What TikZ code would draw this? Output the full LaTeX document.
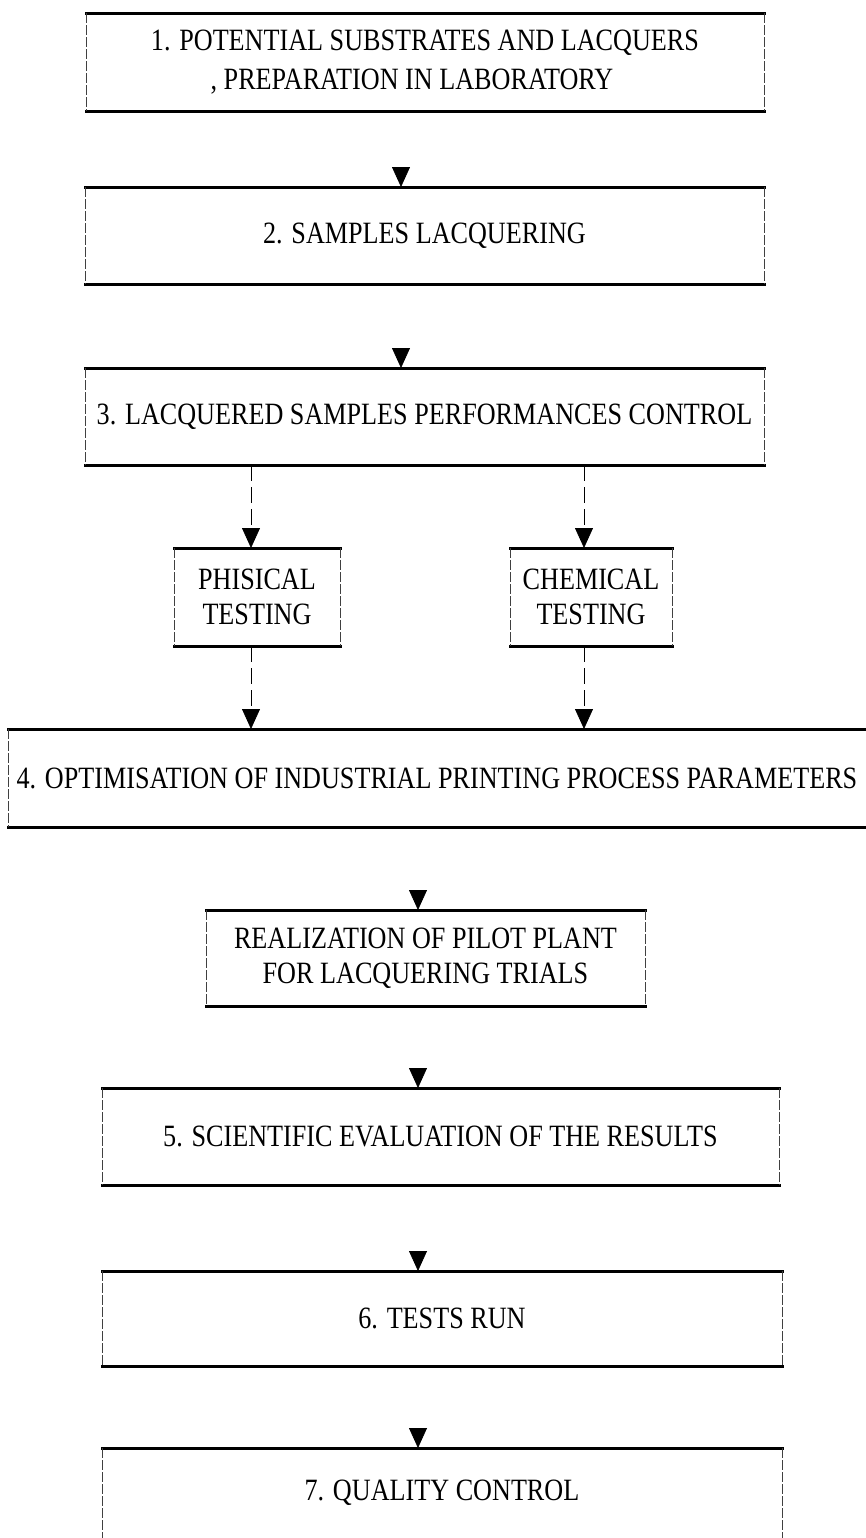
\documentclass[tikz,border=0pt]{standalone}
\usepackage{fontspec}
\setmainfont{Liberation Serif}[FakeStretch=0.844]
\usetikzlibrary{arrows.meta}
\newcommand\frameit[1]{%
  \draw[edgeline] (#1.north west) -- (#1.north east);
  \draw[edgeline] (#1.south west) -- (#1.south east);
  \draw[sideline] (#1.north west) -- (#1.south west);
  \draw[sideline] (#1.north east) -- (#1.south east);}
\begin{document}
\begin{tikzpicture}[x=0.5pt,y=-0.5pt,
  box/.style={inner sep=0pt, outer sep=0pt, align=center,
    font=\fontsize{15.5}{17.5}\selectfont},
  edgeline/.style={line width=1.5pt, line cap=rect},
  sideline/.style={line width=0.5pt, black!75, dash pattern=on 5pt off 1pt},
  tip/.style={-{Triangle[width=9pt,length=10pt,color=black]}},
  mainarrow/.style={tip, draw=white, line width=0.4pt},
  subarrow/.style={tip, line width=0.4pt, dash pattern=on 8pt off 3pt}]
\useasboundingbox (0,0) rectangle (866,1538);
\fill[white] (0,0) rectangle (866,1538);

\node[box, minimum width=339pt, minimum height=49pt,
  font=\fontsize{15.5}{19.5}\selectfont] (b1) at (425,62)
  {1. POTENTIAL SUBSTRATES AND LACQUERS\\, PREPARATION IN LABORATORY\hspace*{13pt}};
\node[box, minimum width=339.5pt, minimum height=48.5pt] (b2) at (424.5,235.5)
  {2. SAMPLES LACQUERING};
\node[box, minimum width=339.5pt, minimum height=48.5pt] (b3) at (424.5,416.5)
  {3. LACQUERED SAMPLES PERFORMANCES CONTROL};
\node[box, minimum width=83pt, minimum height=49pt] (ph) at (257,597)
  {PHISICAL\\TESTING};
\node[box, minimum width=81pt, minimum height=49pt] (ch) at (591,597)
  {CHEMICAL\\TESTING};
\node[box, minimum width=429pt, minimum height=49pt] (b4) at (437,778)
  {4. OPTIMISATION OF INDUSTRIAL PRINTING PROCESS PARAMETERS};
\node[box, minimum width=219.5pt, minimum height=48pt] (pp) at (425.5,958)
  {REALIZATION OF PILOT PLANT\\FOR LACQUERING TRIALS};
\node[box, minimum width=338.5pt, minimum height=48.5pt] (b5) at (440.5,1136.5)
  {5. SCIENTIFIC EVALUATION OF THE RESULTS};
\node[box, minimum width=340pt, minimum height=47.5pt] (b6) at (442,1318.5)
  {6. TESTS RUN};
\node[box, minimum width=340pt, minimum height=45pt] (b7) at (442,1493)
  {7. QUALITY CONTROL};

\coordinate (xa) at (401,0);
\coordinate (xb) at (418,0);
\coordinate (xp) at (251,0);
\coordinate (xc) at (584,0);

% connectors first, so that the frames are drawn over them
\draw[mainarrow] (b1.south -| xa) -- (b2.north -| xa);
\draw[mainarrow] (b2.south -| xa) -- (b3.north -| xa);
\draw[subarrow] (b3.south -| xp) -- (ph.north -| xp);
\draw[subarrow] (b3.south -| xc) -- (ch.north -| xc);
\draw[subarrow] (ph.south -| xp) -- (b4.north -| xp);
\draw[subarrow] (ch.south -| xc) -- (b4.north -| xc);
\draw[mainarrow] (b4.south -| xb) -- (pp.north -| xb);
\draw[mainarrow] (pp.south -| xb) -- (b5.north -| xb);
\draw[mainarrow] (b5.south -| xb) -- (b6.north -| xb);
\draw[mainarrow] (b6.south -| xb) -- (b7.north -| xb);

\frameit{b1}
\frameit{b2}
\frameit{b3}
\frameit{ph}
\frameit{ch}
\frameit{pp}
\frameit{b5}
\frameit{b6}
% box 4: open on the right
\draw[edgeline] (b4.north west) -- (b4.north east);
\draw[edgeline] (b4.south west) -- (b4.south east);
\draw[sideline] (b4.north west) -- (b4.south west);
% box 7: cut off at the bottom
\draw[edgeline] (b7.north west) -- (b7.north east);
\draw[sideline] (b7.north west) -- (b7.south west);
\draw[sideline] (b7.north east) -- (b7.south east);
\end{tikzpicture}
\end{document}
